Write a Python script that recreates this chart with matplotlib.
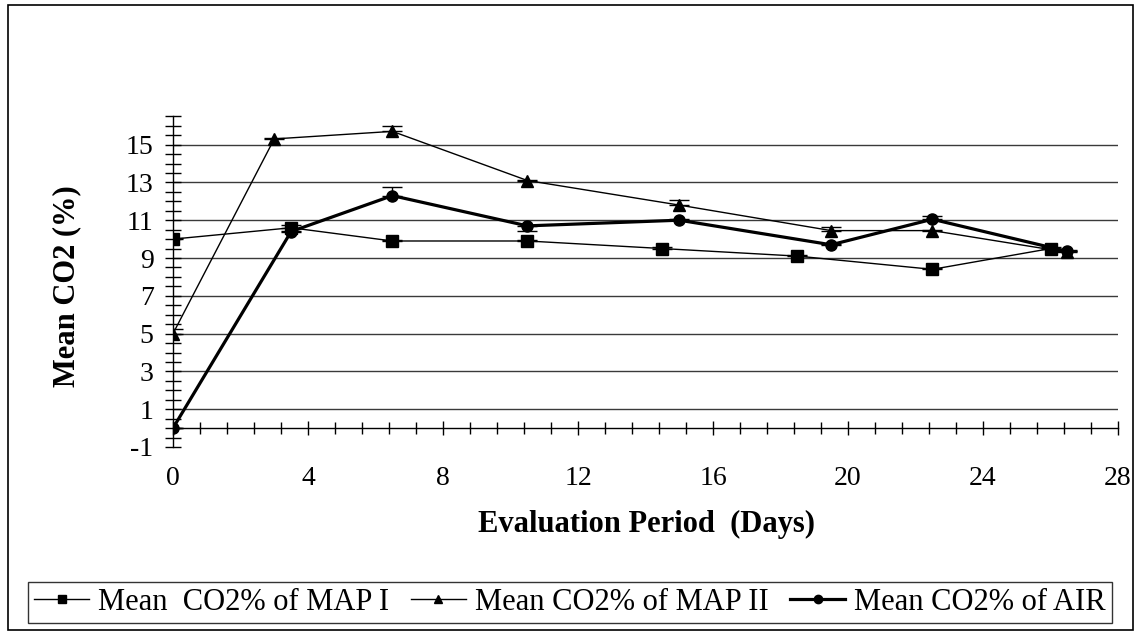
import matplotlib.pyplot as plt
from matplotlib.ticker import MultipleLocator
from matplotlib.patches import Rectangle
from matplotlib.lines import Line2D

plt.rcParams['font.family'] = ['Liberation Serif', 'DejaVu Serif']
plt.rcParams['axes.unicode_minus'] = False

# Mean CO2 (%) over the evaluation period
days_map1 = [0, 3.5, 6.5, 10.5, 14.5, 18.5, 22.5, 26]
co2_map1 = [10.0, 10.6, 9.9, 9.9, 9.5, 9.1, 8.4, 9.5]
err_map1_lo = [0, 0, 0, 0, 0, 0, 0, 0]
err_map1_hi = [0.05, 0.15, 0.05, 0.05, 0.1, 0.05, 0.05, 0.1]

days_map2 = [0, 3, 6.5, 10.5, 15, 19.5, 22.5, 26.5]
co2_map2 = [5.0, 15.3, 15.7, 13.1, 11.8, 10.45, 10.45, 9.3]
err_map2_lo = [0, 0, 0, 0, 0, 0, 0, 0]
err_map2_hi = [0.25, 0.05, 0.3, 0.05, 0.25, 0.2, 0.05, 0.05]

days_air = [0, 3.5, 6.5, 10.5, 15, 19.5, 22.5, 26.5]
co2_air = [0.0, 10.4, 12.3, 10.7, 11.0, 9.7, 11.05, 9.35]
err_air_lo = [0, 0, 0, 0.25, 0, 0, 0, 0]
err_air_hi = [0, 0.05, 0.45, 0, 0.05, 0.05, 0.15, 0.05]

labels = ['Mean  CO2% of MAP I', 'Mean CO2% of MAP II', 'Mean CO2% of AIR']

W, H = 1135, 632
fig = plt.figure(figsize=(W / 100, H / 100), dpi=100)
ax = fig.add_axes([173 / W, 1 - 447 / H, 945 / W, 330.75 / H])

ax.set_xlim(0, 28)
ax.set_ylim(-1, 16.5)

# horizontal gridlines at labelled ticks (not at -1)
for yv in range(1, 16, 2):
    ax.axhline(yv, color='#3a3a3a', lw=1.0, zorder=1)

ax.errorbar(days_map1, co2_map1, yerr=[err_map1_lo, err_map1_hi], color='black',
            lw=1.0, marker='s', ms=8, capsize=7, elinewidth=1, zorder=3)
ax.errorbar(days_map2, co2_map2, yerr=[err_map2_lo, err_map2_hi], color='black',
            lw=1.0, marker='^', ms=9, capsize=7, elinewidth=1, zorder=3)
ax.errorbar(days_air, co2_air, yerr=[err_air_lo, err_air_hi], color='black',
            lw=2.3, marker='o', ms=8, capsize=7, elinewidth=1, zorder=3)

for s in ['top', 'right']:
    ax.spines[s].set_visible(False)
ax.spines['bottom'].set_position(('data', 0))
ax.spines['left'].set_linewidth(1.0)
ax.spines['bottom'].set_linewidth(1.0)

ax.xaxis.set_major_locator(MultipleLocator(4))
ax.xaxis.set_minor_locator(MultipleLocator(0.8))
ax.yaxis.set_minor_locator(MultipleLocator(0.5))
ax.set_yticks(range(-1, 16, 2))

ax.tick_params(axis='y', which='major', direction='inout', length=12, width=1,
               labelsize=20, pad=8)
ax.tick_params(axis='y', which='minor', direction='inout', length=11, width=1)
ax.tick_params(axis='x', which='major', direction='inout', length=10, width=1,
               labelsize=20, pad=22)
ax.tick_params(axis='x', which='minor', direction='inout', length=8, width=1)

fig.text(67 / W, 1 - 286 / H, 'Mean CO2 (%)', fontsize=22, fontweight='bold',
         rotation=90, ha='center', va='center')
fig.text(647 / W, 1 - 524 / H, 'Evaluation Period  (Days)', fontsize=22,
         fontweight='bold', ha='center', va='center')

handles = [
    Line2D([], [], color='black', lw=1.0, marker='s', ms=6),
    Line2D([], [], color='black', lw=1.0, marker='^', ms=6),
    Line2D([], [], color='black', lw=2.3, marker='o', ms=6),
]
leg = fig.legend(handles, labels, loc='center',
                 bbox_to_anchor=(28 / W, 1 - 627 / H, 1084 / W, 49 / H),
                 ncol=3, mode='expand', fontsize=22, frameon=True, fancybox=False,
                 edgecolor='black', handlelength=1.8, handletextpad=0.3,
                 columnspacing=0.3, borderpad=0.2, borderaxespad=0)
leg.get_frame().set_linewidth(1.0)

# outer chart border
fig.patches.append(Rectangle((8 / W, 1 - 630 / H), 1125 / W, 625 / H,
                             transform=fig.transFigure, fill=False,
                             edgecolor='black', lw=1.2))

fig.savefig('out.png', dpi=100)
